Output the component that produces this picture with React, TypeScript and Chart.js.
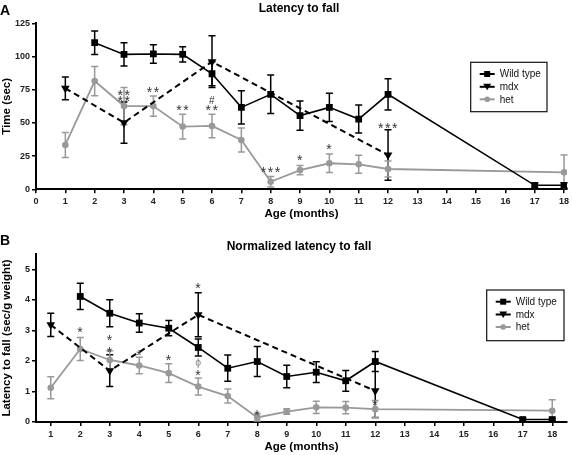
import React, { useEffect, useRef } from 'react';
import { Chart, registerables } from 'chart.js';

Chart.register(...registerables);

const FONT = '"Liberation Sans", Arial, Helvetica, sans-serif';

// ---- categories (age in months) ----
const agesWt = [2, 3, 4, 5, 6, 7, 8, 9, 10, 11, 12, 17, 18];
const agesMdx = [1, 3, 6, 12];
const agesHet = [1, 2, 3, 4, 5, 6, 7, 8, 9, 10, 11, 12, 18];

// ---- Panel A: latency to fall (sec) ----
const wtTime = [110.4, 101.6, 101.9, 101.6, 87, 61.7, 71.5, 55.5, 61.7, 52.9, 71.5, 3, 3];
const wtTimeSem = [8.8, 8.8, 7, 5.7, 9, 12.5, 14.5, 11, 10.6, 10.5, 11.7, 2, 2];
const mdxTime = [76, 50.2, 96.1, 25.8];
const mdxTimeSem = [8.5, 15.5, 19.5, 19];
const hetTime = [33.4, 81.5, 62.7, 62.7, 47.2, 47.7, 37.1, 5.7, 14.5, 19.6, 18.8, 15.3, 12.8];
const hetTimeSem = [9.4, 11, 14, 7.6, 9.4, 8.8, 9, 4, 3.5, 7, 6.8, 6, 13];

// ---- Panel B: normalized latency (sec/g weight) ----
const wtNorm = [4.11, 3.56, 3.24, 3.07, 2.44, 1.76, 1.98, 1.49, 1.63, 1.35, 1.98, 0.08, 0.08];
const wtNormSem = [0.43, 0.44, 0.3, 0.25, 0.28, 0.43, 0.49, 0.37, 0.34, 0.34, 0.33, 0.04, 0.04];
const mdxNorm = [3.18, 1.68, 3.51, 1.02];
const mdxNormSem = [0.38, 0.52, 0.72, 0.87];
const hetNorm = [1.12, 2.39, 2.03, 1.85, 1.6, 1.16, 0.85, 0.15, 0.34, 0.48, 0.47, 0.42, 0.37];
const hetNormSem = [0.36, 0.38, 0.3, 0.27, 0.31, 0.28, 0.23, 0.12, 0.09, 0.2, 0.2, 0.28, 0.36];

// ---- ticks ----
const xTicksA = [0, 1, 2, 3, 4, 5, 6, 7, 8, 9, 10, 11, 12, 13, 14, 15, 16, 17, 18];
const yTicksA = [0, 25, 50, 75, 100, 125];
const xTicksB = [1, 2, 3, 4, 5, 6, 7, 8, 9, 10, 11, 12, 13, 14, 15, 16, 17, 18];
const yTicksB = [0, 1, 2, 3, 4, 5];

// ---- significance marks ----
const annAX = [3, 3, 4, 5, 6, 6, 8, 9, 10, 12];
const annAY = [72.7, 67.8, 75, 61, 67, 61, 14.5, 23.3, 32, 47.7];
const annAText = ['**', '**', '**', '**', '#', '**', '***', '*', '*', '***'];

const annBX = [2, 3, 3, 4, 5, 6, 6, 6, 8, 12];
const annBY = [3.02, 2.74, 2.36, 2.27, 2.09, 4.44, 1.92, 1.6, 0.31, 0.63];
const annBText = ['*', '*', '*', '*', '*', '*', 'ϕ', '*', '*', '*'];

const seriesNames = ['Wild type', 'mdx', 'het'];

const errorBarPlugin = {
  id: 'errbars',
  beforeDatasetsDraw(chart: any) {
    const ctx = chart.ctx;
    const area = chart.chartArea;
    const ys = chart.scales.y;
    chart.data.datasets.forEach((ds: any, di: number) => {
      const meta = chart.getDatasetMeta(di);
      ctx.save();
      ctx.strokeStyle = ds.borderColor;
      ctx.lineWidth = 1.5;
      ds.errors.forEach((e: number, i: number) => {
        const pt = meta.data[i];
        const v = ds.data[i].y;
        const top = ys.getPixelForValue(v + e);
        const bot = Math.min(ys.getPixelForValue(v - e), area.bottom);
        ctx.beginPath();
        ctx.moveTo(pt.x, top);
        ctx.lineTo(pt.x, bot);
        ctx.moveTo(pt.x - 3.5, top);
        ctx.lineTo(pt.x + 3.5, top);
        if (bot < area.bottom - 0.5) {
          ctx.moveTo(pt.x - 3.5, bot);
          ctx.lineTo(pt.x + 3.5, bot);
        }
        ctx.stroke();
      });
      ctx.restore();
    });
  },
};

function drawGlyph(ctx: CanvasRenderingContext2D, c: string, cx: number, cy: number) {
  let size = 14;
  let color = '#333';
  if (c === '#') size = 10;
  if (c === 'ϕ') {
    size = 10.5;
    color = '#8a8a8a';
  }
  ctx.font = `${size}px ${FONT}`;
  ctx.fillStyle = color;
  ctx.textAlign = 'left';
  ctx.textBaseline = 'alphabetic';
  const m = ctx.measureText(c);
  const x = cx - (m.actualBoundingBoxRight - m.actualBoundingBoxLeft) / 2;
  const y = cy + (m.actualBoundingBoxAscent - m.actualBoundingBoxDescent) / 2;
  ctx.fillText(c, x, y);
}

function drawMarker(ctx: CanvasRenderingContext2D, kind: number, x: number, y: number, color: string) {
  ctx.fillStyle = color;
  ctx.beginPath();
  if (kind === 0) {
    ctx.rect(x - 3, y - 3, 6, 6);
  } else if (kind === 1) {
    ctx.moveTo(x - 4, y - 3);
    ctx.lineTo(x + 4, y - 3);
    ctx.lineTo(x, y + 3.5);
    ctx.closePath();
  } else {
    ctx.arc(x, y, 2.8, 0, Math.PI * 2);
  }
  ctx.fill();
}

const decorPlugin = {
  id: 'decor',
  afterDraw(chart: any, _args: any, o: any) {
    const ctx = chart.ctx as CanvasRenderingContext2D;
    const xs = chart.scales.x;
    const ys = chart.scales.y;
    ctx.save();
    // panel letter
    ctx.fillStyle = '#000';
    ctx.font = `bold 14px ${FONT}`;
    ctx.textAlign = 'left';
    ctx.textBaseline = 'alphabetic';
    ctx.fillText(o.letter, 0, o.letterY);
    // title
    ctx.font = `bold 12px ${FONT}`;
    ctx.textAlign = 'center';
    ctx.fillText(o.title, 299, o.titleY);
    // significance marks
    o.annX.forEach((xv: number, i: number) => {
      const txt: string = o.annText[i];
      const px = xs.getPixelForValue(xv);
      const py = ys.getPixelForValue(o.annY[i]);
      const n = txt.length;
      for (let j = 0; j < n; j++) {
        drawGlyph(ctx, txt[j], px + (j - (n - 1) / 2) * 7, py);
      }
    });
    // legend
    const L = o.legend;
    ctx.strokeStyle = '#111';
    ctx.lineWidth = 1.2;
    ctx.strokeRect(L.x, L.y, L.w, L.h);
    const rows = [11.7, 24.5, 37];
    const colors = ['#000', '#000', '#999'];
    seriesNames.forEach((name, i) => {
      const ry = L.y + rows[i];
      ctx.strokeStyle = colors[i];
      ctx.lineWidth = 2;
      ctx.beginPath();
      ctx.moveTo(L.x + 9, ry);
      ctx.lineTo(L.x + 24, ry);
      ctx.stroke();
      drawMarker(ctx, i, L.x + 16.5, ry, colors[i]);
      ctx.fillStyle = '#111';
      ctx.font = `10px ${FONT}`;
      ctx.textAlign = 'left';
      ctx.textBaseline = 'middle';
      ctx.fillText(name, L.x + 29, ry + 0.5);
    });
    ctx.restore();
  },
};

function buildConfig(p: any): any {
  const tickFont = { family: FONT, size: 9, weight: 'bold' };
  const titleFont = { family: FONT, size: 11.5, weight: 'bold' };
  return {
    type: 'line',
    data: {
      datasets: [
        {
          label: 'Wild type',
          data: agesWt.map((x, i) => ({ x, y: p.wt[i] })),
          errors: p.wtSem,
          borderColor: '#000',
          backgroundColor: '#000',
          borderWidth: 1.6,
          pointStyle: 'rect',
          pointRadius: 4.8,
          pointBackgroundColor: '#000',
          pointBorderColor: '#000',
          pointBorderWidth: 0,
          tension: 0,
        },
        {
          label: 'mdx',
          data: agesMdx.map((x, i) => ({ x, y: p.mdx[i] })),
          errors: p.mdxSem,
          borderColor: '#000',
          backgroundColor: '#000',
          borderWidth: 2,
          borderDash: [6, 4],
          pointStyle: 'triangle',
          pointRotation: 180,
          pointRadius: 5,
          pointBackgroundColor: '#000',
          pointBorderColor: '#000',
          pointBorderWidth: 0,
          tension: 0,
        },
        {
          label: 'het',
          data: agesHet.map((x, i) => ({ x, y: p.het[i] })),
          errors: p.hetSem,
          borderColor: '#999999',
          backgroundColor: '#999999',
          borderWidth: 1.8,
          pointStyle: 'circle',
          pointRadius: 3.3,
          pointBackgroundColor: '#999999',
          pointBorderColor: '#999999',
          pointBorderWidth: 0,
          tension: 0,
        },
      ],
    },
    options: {
      responsive: false,
      animation: false,
      events: [],
      layout: { padding: { left: 0, right: p.padRight, top: p.padTop, bottom: p.padBottom } },
      scales: {
        x: {
          type: 'linear',
          min: p.xMin,
          max: p.xMax,
          afterBuildTicks: (s: any) => {
            s.ticks = p.xTicks.map((v: number) => ({ value: v }));
          },
          afterFit: (s: any) => {
            s.height = p.xHeight;
            s.paddingLeft = 0;
            s.paddingRight = 0;
          },
          grid: { drawOnChartArea: false, drawTicks: true, tickLength: 4, color: '#000', lineWidth: 1.5 },
          border: { display: true, color: '#000', width: 2 },
          ticks: { color: '#222', font: tickFont, padding: 3, maxRotation: 0, autoSkip: false },
          title: { display: true, text: 'Age (months)', color: '#000', font: titleFont, padding: 0 },
        },
        y: {
          type: 'linear',
          min: 0,
          max: p.yMax,
          afterBuildTicks: (s: any) => {
            s.ticks = p.yTicks.map((v: number) => ({ value: v }));
          },
          afterFit: (s: any) => {
            s.width = 36;
            s.paddingTop = 0;
            s.paddingBottom = 0;
          },
          grid: { drawOnChartArea: false, drawTicks: true, tickLength: 4, color: '#000', lineWidth: 1.5 },
          border: { display: true, color: '#000', width: 2 },
          ticks: { color: '#222', font: tickFont, padding: 2, autoSkip: false },
          title: { display: true, text: p.yTitle, color: '#000', font: titleFont, padding: 0 },
        },
      },
      plugins: {
        legend: { display: false },
        tooltip: { enabled: false },
        decor: {
          letter: p.letter,
          letterY: p.letterY,
          title: p.title,
          titleY: p.titleY,
          annX: p.annX,
          annY: p.annY,
          annText: p.annText,
          legend: p.legend,
        },
      },
    },
    plugins: [errorBarPlugin, decorPlugin],
  };
}

export default function App() {
  const refA = useRef<HTMLCanvasElement>(null);
  const refB = useRef<HTMLCanvasElement>(null);

  useEffect(() => {
    const chartA = new Chart(
      refA.current as HTMLCanvasElement,
      buildConfig({
        wt: wtTime, wtSem: wtTimeSem, mdx: mdxTime, mdxSem: mdxTimeSem, het: hetTime, hetSem: hetTimeSem,
        xMin: 0, xMax: 18.1, xTicks: xTicksA, yMax: 125, yTicks: yTicksA,
        padRight: 2.4, padTop: 23.3, padBottom: 7.5, xHeight: 31.2,
        yTitle: 'Time (sec)', letter: 'A', letterY: 15, title: 'Latency to fall', titleY: 12,
        annX: annAX, annY: annAY, annText: annAText,
        legend: { x: 470.7, y: 62.3, w: 76.3, h: 49.4 },
      })
    );
    const chartB = new Chart(
      refB.current as HTMLCanvasElement,
      buildConfig({
        wt: wtNorm, wtSem: wtNormSem, mdx: mdxNorm, mdxSem: mdxNormSem, het: hetNorm, hetSem: hetNormSem,
        xMin: 0.5, xMax: 18.5, xTicks: xTicksB, yMax: 5.5, yTicks: yTicksB,
        padRight: 3, padTop: 26, padBottom: 0.8, xHeight: 32.2,
        yTitle: 'Latency to fall (sec/g weight)', letter: 'B', letterY: 17.3,
        title: 'Normalized latency to fall', titleY: 22,
        annX: annBX, annY: annBY, annText: annBText,
        legend: { x: 486.7, y: 62, w: 77.3, h: 50.7 },
      })
    );
    return () => {
      chartA.destroy();
      chartB.destroy();
    };
  }, []);

  return (
    <div style={{ position: 'fixed', left: 0, top: 0, width: 572, height: 455, background: '#fff' }}>
      <canvas ref={refA} width={572} height={228} style={{ position: 'absolute', left: 0, top: 0 }} />
      <canvas ref={refB} width={572} height={227} style={{ position: 'absolute', left: 0, top: 228 }} />
    </div>
  );
}
